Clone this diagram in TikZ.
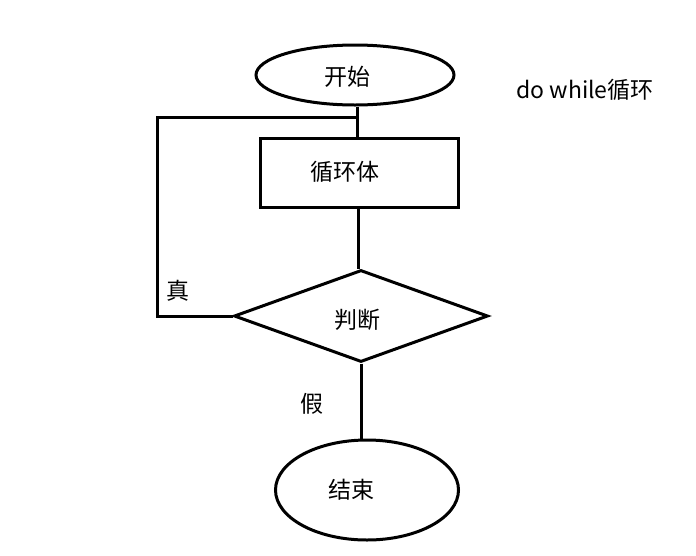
\documentclass[tikz,border=0pt]{standalone}
\usepackage{fontspec}
\setmainfont{Noto Sans CJK SC}
\usetikzlibrary{shapes.geometric,positioning}
\tikzset{
	flowline/.style={line width=3pt},
	term/.style={draw, ellipse, line width=3pt, inner sep=0pt},
	procbox/.style={draw, rectangle, line width=3pt, inner sep=0pt},
	decide/.style={draw, diamond, line width=3pt, inner sep=0pt},
	txt/.style={font=\fontsize{23}{27}\selectfont}
}
\begin{document}
\begin{tikzpicture}[x=1pt, y=-1pt]
	\useasboundingbox (0,0) rectangle (696,555);
	
	%% -- nodes
	\node[term, minimum width=198pt, minimum height=60pt] (start) at (355,75) {};
	\node[txt] (starttxt) at (347,77) {开始};
	
	\node[procbox, minimum width=198pt, minimum height=69pt] (body) at (359,172.5) {};
	\node[txt] (bodytxt) at (345,172) {循环体};
	
	\node[decide, minimum width=254pt, minimum height=92pt] (cond) at (361,316) {};
	\node[txt] (condtxt) at (357,320) {判断};
	
	\node[term, minimum width=183pt, minimum height=100pt] (stop) at (367,490) {};
	\node[txt] (stoptxt) at (351,490) {结束};
	
	\node[txt] (title) at (585,90) {do while循环};
	
	%% -- loop corners
	\coordinate (loopjoin) at (357,117);
	\coordinate (loopcorner) at (157,316);
	
	%% -- connectors
	\draw[flowline] (start.south -| loopjoin) -- (body.north -| loopjoin);
	\draw[flowline] (body.south -| 358,0) -- (cond.north -| 358,0);
	\draw[flowline] (cond.west) -- (loopcorner) |- (loopjoin);
	\draw[flowline] (cond.south) -- (cond.south |- stop.north);
	
	%% -- branch labels
	\node[txt] (truelbl) at (178,291) {真};
	\node[txt] (falselbl) at (312,404) {假};
\end{tikzpicture}
\end{document}
